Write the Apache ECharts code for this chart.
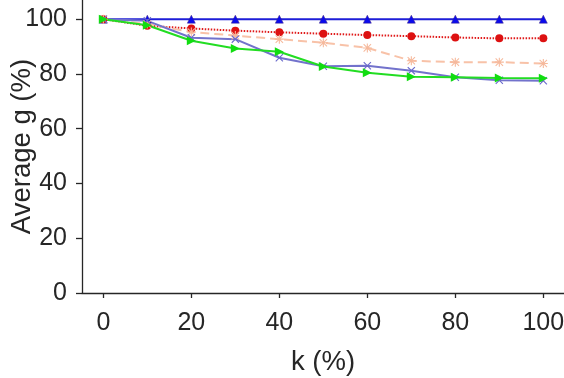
<!DOCTYPE html>
<html>
<head>
<meta charset="utf-8">
<script src="https://cdn.jsdelivr.net/npm/echarts@6/dist/echarts.min.js"></script>
<style>
  html, body { margin: 0; padding: 0; background: #fff; }
  #chart { width: 564px; height: 378px; }
</style>
</head>
<body>
<div id="chart"></div>
<script>
// k (%) values
const kValues = [0, 10, 20, 30, 40, 50, 60, 70, 80, 90, 100];
const xTicks = [0, 20, 40, 60, 80, 100];
const yTicks = [0, 20, 40, 60, 80, 100];

// average g (%) per method
const blueTri = [100, 100, 100, 100, 100, 100, 100, 100, 100, 100, 100];
const redDot = [100, 97.6, 96.6, 95.8, 95.2, 94.7, 94.2, 93.8, 93.3, 93.0, 93.0];
const peachStar = [100, 98.2, 95.3, 94.0, 92.7, 91.4, 89.5, 84.8, 84.3, 84.3, 83.8];
const purpleX = [100, 99.4, 93.2, 92.7, 85.9, 82.8, 83.0, 81.2, 78.8, 77.7, 77.5];
const greenTri = [100, 97.8, 92.1, 89.3, 88.1, 82.7, 80.4, 79.0, 78.8, 78.5, 78.4];

const textColor = "#262626";
const font = "Liberation Sans, Arial, Helvetica, sans-serif";

const xMark = "path://M0,1 L1,0 L5,4 L9,0 L10,1 L6,5 L10,9 L9,10 L5,6 L1,10 L0,9 L4,5 Z";
const starMark = "path://M0,4.4 L10,4.4 L10,5.6 L0,5.6 Z M4.4,0 L5.6,0 L5.6,10 L4.4,10 Z " +
  "M1.3,0.5 L9.5,8.7 L8.7,9.5 L0.5,1.3 Z M8.7,0.5 L9.5,1.3 L1.3,9.5 L0.5,8.7 Z";

function pairs(arr) {
  return kValues.map((k, i) => [k, arr[i]]);
}

const chart = echarts.init(document.getElementById("chart"));
chart.setOption({
  animation: false,
  backgroundColor: "#fff",
  grid: { left: 82, right: 0, top: 0, bottom: 85, containLabel: false, outerBoundsMode: "none" },
  xAxis: {
    type: "value",
    min: -4.85,
    max: 104.7,
    name: "k (%)",
    nameLocation: "middle",
    nameGap: 55,
    nameMoveOverlap: false,
    nameTextStyle: { color: textColor, fontSize: 27.5, fontFamily: font },
    axisLine: { onZero: false, lineStyle: { color: textColor, width: 1.3 } },
    axisTick: { show: true, length: 5, customValues: xTicks, lineStyle: { color: textColor, width: 1.3 } },
    axisLabel: { customValues: xTicks, color: textColor, fontSize: 25, fontFamily: font, margin: 18 },
    splitLine: { show: false }
  },
  yAxis: {
    type: "value",
    min: 0,
    max: 107,
    name: "Average g (%)",
    nameLocation: "middle",
    nameGap: 46,
    nameMoveOverlap: false,
    nameTextStyle: { color: textColor, fontSize: 27.5, fontFamily: font },
    axisLine: { show: true, onZero: false, lineStyle: { color: textColor, width: 1.3 } },
    axisTick: { show: true, length: 6, customValues: yTicks, lineStyle: { color: textColor, width: 1.3 } },
    axisLabel: { customValues: yTicks, color: textColor, fontSize: 25, fontFamily: font, margin: 15 },
    splitLine: { show: false }
  },
  series: [
    {
      name: "blue", type: "line", data: pairs(blueTri),
      symbol: "triangle", symbolSize: 8,
      lineStyle: { color: "#1e1ed8", width: 2 },
      itemStyle: { color: "#0a0aee", borderColor: "#3a2080", borderWidth: 0.5 }
    },
    {
      name: "red", type: "line", data: pairs(redDot),
      symbol: "circle", symbolSize: 8,
      lineStyle: { color: "#e01a1a", width: 2, type: [1.5, 1.5] },
      itemStyle: { color: "#dd1111" }
    },
    {
      name: "peach", type: "line", data: pairs(peachStar),
      symbol: starMark, symbolSize: 9,
      lineStyle: { color: "#f8c2a8", width: 2, type: [9, 5] },
      itemStyle: { color: "#f6b99c" }
    },
    {
      name: "purple", type: "line", data: pairs(purpleX),
      symbol: xMark, symbolSize: 8,
      lineStyle: { color: "#7272cc", width: 2 },
      itemStyle: { color: "#6a6acc" }
    },
    {
      name: "green", type: "line", data: pairs(greenTri),
      symbol: "triangle", symbolRotate: -90, symbolSize: 9,
      lineStyle: { color: "#22dd22", width: 2 },
      itemStyle: { color: "#11dd11" }
    }
  ]
});
</script>
</body>
</html>
